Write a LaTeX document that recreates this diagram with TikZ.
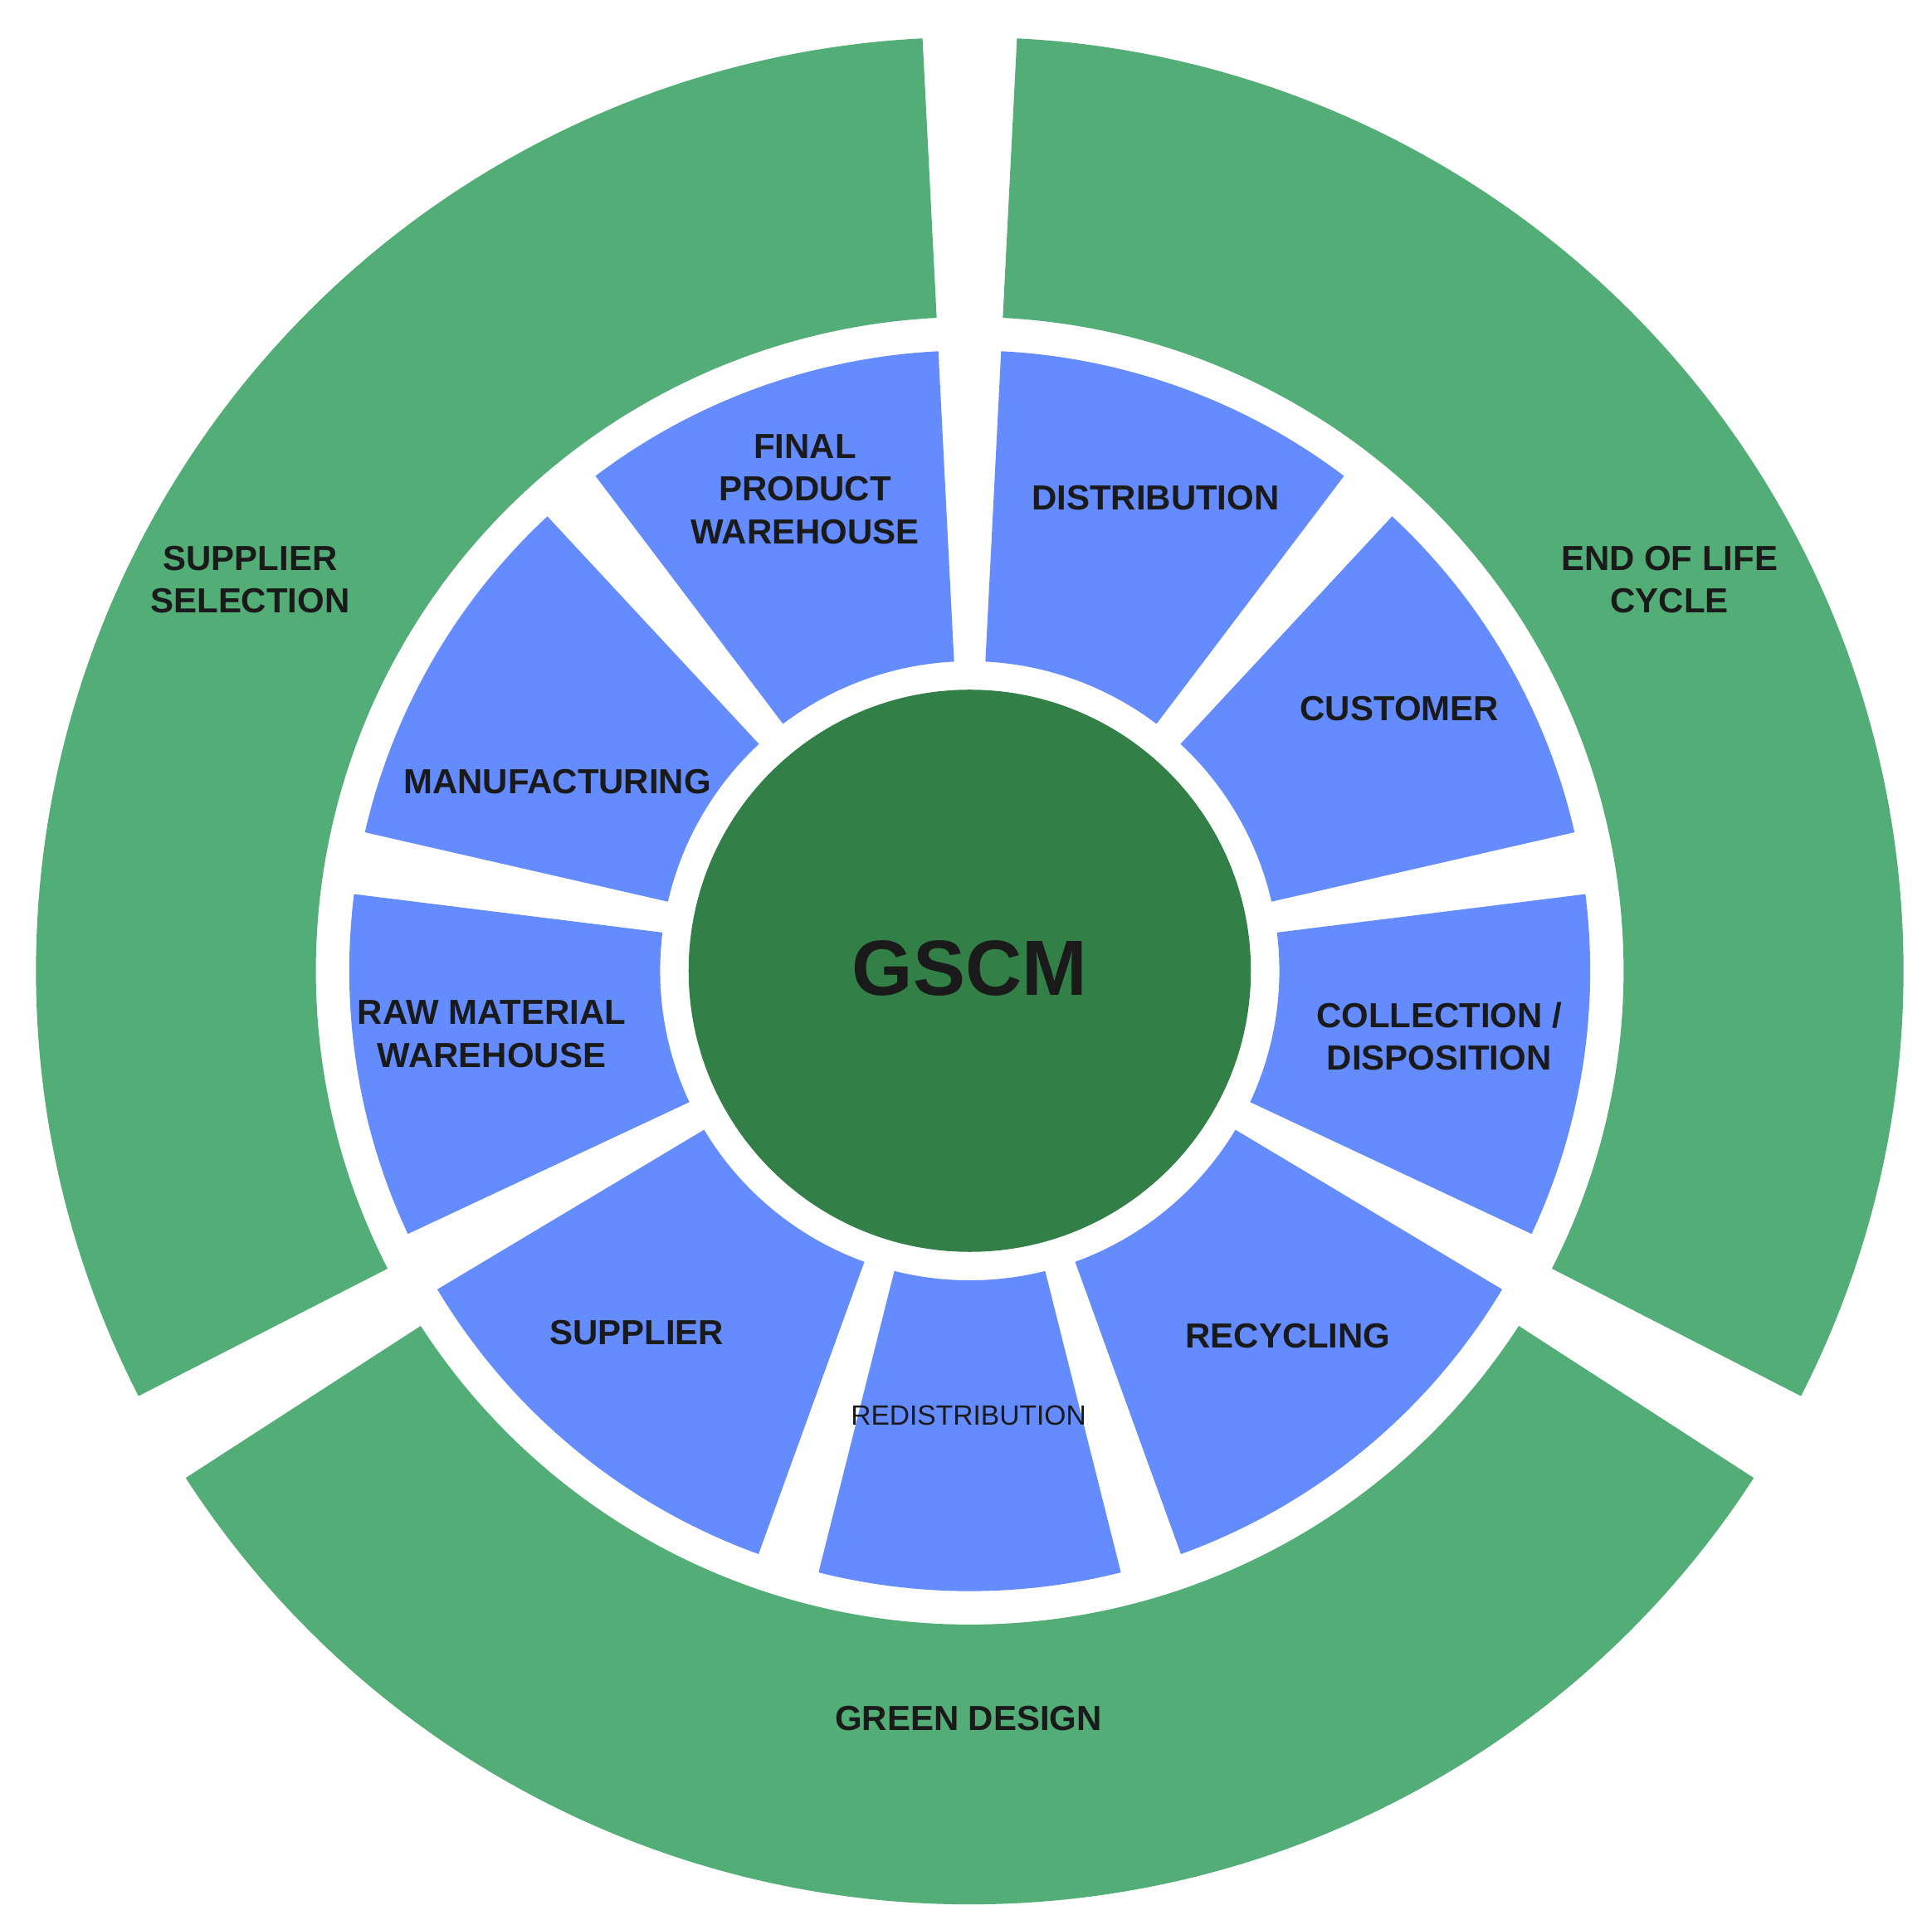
\documentclass[tikz,border=0pt]{standalone}
\usepackage{fontspec}
\setmainfont{Liberation Sans}
\definecolor{outg}{HTML}{53AD77}
\definecolor{blu}{HTML}{648CFF}
\definecolor{dkg}{HTML}{327F48}
\definecolor{txt}{HTML}{1A1A1A}
\begin{document}
\begin{tikzpicture}
\tikzset{lab/.style={align=center,text=txt,font=\fontsize{8}{9.8}\selectfont\bfseries}}
\useasboundingbox (0,0) rectangle (15.60,-15.50);
\begin{scope}[shift={(7.83,-7.84)}]
\def\hg{2.9}
% outer green ring
\foreach \a/\b in {-30/90,90/210,210/330}{
  \fill[outg] ({\a+\hg}:7.54) arc[start angle={\a+\hg},end angle={\b-\hg},radius=7.54]
    -- ({\b-\hg}:5.28) arc[start angle={\b-\hg},end angle={\a+\hg},radius=5.28] -- cycle;
}
% blue ring
\foreach \a/\b in {-152/-107,-107/-73,-73/-28,-28/10,10/50,50/90,90/130,130/170,170/208}{
  \fill[blu] ({\a+\hg}:5.01) arc[start angle={\a+\hg},end angle={\b-\hg},radius=5.01]
    -- ({\b-\hg}:2.50) arc[start angle={\b-\hg},end angle={\a+\hg},radius=2.50] -- cycle;
}
\fill[dkg] (0,0) circle (2.27);
\end{scope}
\node[text=txt,font=\fontsize{18}{22}\selectfont\bfseries] (g) at (7.83,-7.82) {GSCM};
\node[lab] (ss) at (2.02,-4.68) {SUPPLIER\\SELECTION};
\node[lab] (el) at (13.48,-4.68) {END OF LIFE\\CYCLE};
\node[lab] (gd) at (7.82,-13.88) {GREEN DESIGN};
\node[lab] (fp) at (6.50,-3.95) {FINAL\\PRODUCT\\WAREHOUSE};
\node[lab] (di) at (9.33,-4.02) {DISTRIBUTION};
\node[lab] (cu) at (11.30,-5.72) {CUSTOMER};
\node[lab] (co) at (11.62,-8.37) {COLLECTION /\\DISPOSITION};
\node[lab] (re) at (10.40,-10.79) {RECYCLING};
\node[align=center,text=txt,font=\fontsize{6.4}{8}\selectfont] (rd) at (7.82,-11.43) {REDISTRIBUTION};
\node[lab] (su) at (5.14,-10.76) {SUPPLIER};
\node[lab] (rm) at (3.97,-8.35) {RAW MATERIAL\\WAREHOUSE};
\node[lab] (ma) at (4.50,-6.31) {MANUFACTURING};
\end{tikzpicture}
\end{document}
